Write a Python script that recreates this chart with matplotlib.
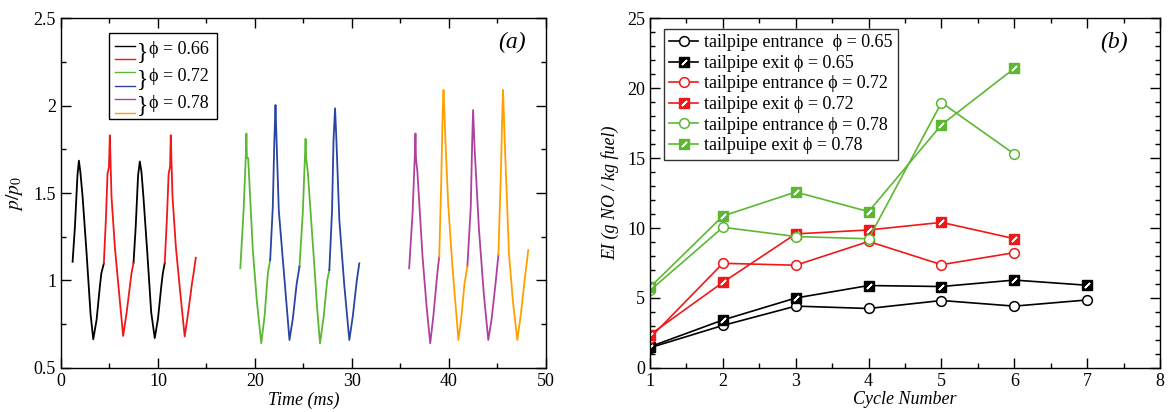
import matplotlib
matplotlib.use("Agg")
import matplotlib.pyplot as plt
import numpy as np
from matplotlib.ticker import MultipleLocator
from matplotlib.patches import Rectangle

plt.rcParams['font.family'] = ['Liberation Serif', 'DejaVu Serif']
plt.rcParams['mathtext.fontset'] = 'stix'

# ---- panel (a): pressure traces, two cycles per colour (nan = break) ----
black_t = [1.2, 1.44, 1.7, 1.85, 2.0, 2.23, 2.64, 3.05, 3.33, 3.67, 4.01, 4.16, 4.42, np.nan,
           7.48, 7.7, 7.95, 8.13, 8.3, 8.5, 8.9, 9.3, 9.67, 10.0, 10.35, 10.5, 10.7]
black_p = [1.107, 1.307, 1.6, 1.685, 1.62, 1.48, 1.157, 0.81, 0.664, 0.774, 0.965, 1.04, 1.098, np.nan,
           1.10, 1.30, 1.60, 1.68, 1.62, 1.48, 1.16, 0.82, 0.671, 0.78, 0.97, 1.04, 1.10]
red_t = [4.42, 4.63, 4.8, 4.95, 5.04, 5.21, 5.56, 6.0, 6.41, 6.76, 7.27, 7.48, np.nan,
         10.7, 10.92, 11.1, 11.25, 11.32, 11.5, 11.85, 12.3, 12.76, 13.1, 13.5, 13.7, 13.9]
red_p = [1.098, 1.346, 1.61, 1.65, 1.83, 1.48, 1.19, 0.926, 0.683, 0.812, 1.04, 1.10, np.nan,
         1.10, 1.35, 1.61, 1.65, 1.83, 1.48, 1.19, 0.93, 0.68, 0.81, 0.98, 1.05, 1.13]
green_t = [18.49, 18.83, 19.05, 19.12, 19.17, 19.3, 19.78, 20.2, 20.65, 21.0, 21.33, 21.57, np.nan,
           24.59, 24.93, 25.15, 25.22, 25.28, 25.45, 26.13, 26.4, 26.71, 27.1, 27.45, 27.67]
green_p = [1.07, 1.40, 1.70, 1.84, 1.70, 1.70, 1.174, 0.88, 0.641, 0.80, 1.041, 1.117, np.nan,
           1.079, 1.384, 1.70, 1.81, 1.70, 1.62, 1.08, 0.85, 0.641, 0.80, 1.0, 1.06]
blue_t = [21.57, 21.84, 22.0, 22.12, 22.2, 22.46, 23.05, 23.56, 23.9, 24.3, 24.59, np.nan,
          27.67, 27.95, 28.1, 28.26, 28.4, 28.7, 29.2, 29.73, 30.1, 30.5, 30.76]
blue_p = [1.117, 1.42, 1.80, 2.003, 1.85, 1.40, 1.003, 0.66, 0.78, 0.98, 1.079, np.nan,
          1.06, 1.40, 1.80, 1.984, 1.80, 1.346, 0.98, 0.66, 0.80, 1.0, 1.098]
magenta_t = [35.9, 36.25, 36.5, 36.55, 36.6, 36.75, 37.28, 37.7, 38.07, 38.4, 38.82, 39.0, np.nan,
             41.9, 42.25, 42.4, 42.49, 42.65, 43.1, 43.6, 44.06, 44.4, 44.8, 45.1]
magenta_p = [1.07, 1.384, 1.74, 1.84, 1.70, 1.62, 1.136, 0.85, 0.641, 0.80, 1.05, 1.136, np.nan,
             1.08, 1.42, 1.80, 1.974, 1.75, 1.289, 0.92, 0.66, 0.78, 0.98, 1.146]
orange_t = [39.0, 39.2, 39.35, 39.44, 39.6, 39.92, 40.36, 40.98, 41.3, 41.6, 41.9, np.nan,
            45.1, 45.35, 45.5, 45.58, 45.75, 46.19, 46.6, 47.05, 47.4, 47.8, 48.18]
orange_p = [1.136, 1.55, 1.95, 2.089, 1.85, 1.44, 1.08, 0.66, 0.80, 0.98, 1.08, np.nan,
            1.146, 1.60, 1.95, 2.089, 1.80, 1.155, 0.88, 0.66, 0.80, 1.0, 1.174]
phi_a = ['0.66', '0.72', '0.78']

# ---- panel (b): emission index per cycle ----
ent065 = [1.45, 3.04, 4.42, 4.25, 4.82, 4.42, 4.86]
exit065 = [1.52, 3.43, 5.0, 5.89, 5.82, 6.28, 5.91]
ent072 = [2.15, 7.48, 7.34, 9.04, 7.38, 8.24]
exit072 = [2.38, 6.12, 9.58, 9.86, 10.4, 9.24]
ent078 = [5.54, 10.05, 9.39, 9.23, 18.96, 15.28]
exit078 = [5.77, 10.86, 12.57, 11.17, 17.37, 21.4]
labels_b = ['tailpipe entrance  ϕ = 0.65', 'tailpipe exit ϕ = 0.65',
            'tailpipe entrance ϕ = 0.72', 'tailpipe exit ϕ = 0.72',
            'tailpipe entrance ϕ = 0.78', 'tailpuipe exit ϕ = 0.78']

BLACK, RED, GREEN, BLUE, MAG, ORANGE = '#000000', '#f01818', '#5cb832', '#2a44a0', '#b040a0', '#ffa000'

fig = plt.figure(figsize=(11.7, 4.12), dpi=100)
ax1 = fig.add_axes([0.0521, 0.1068, 0.4145, 0.8495])
ax2 = fig.add_axes([0.5556, 0.1068, 0.4359, 0.8495])

fs = 13
for ax in (ax1, ax2):
    ax.tick_params(which='both', direction='in', top=True, right=True, labelsize=fs)
    ax.tick_params(which='major', length=7, width=1)
    ax.tick_params(which='minor', length=3.5, width=1)
    for s in ax.spines.values():
        s.set_linewidth(1)

traces = [(black_t, black_p, BLACK), (red_t, red_p, RED), (green_t, green_p, GREEN),
          (blue_t, blue_p, BLUE), (magenta_t, magenta_p, MAG), (orange_t, orange_p, ORANGE)]
for t, p, c in traces:
    ax1.plot(t, p, color=c, lw=1.3)
ax1.set_xlim(0, 50)
ax1.set_ylim(0.5, 2.5)
ax1.xaxis.set_major_locator(MultipleLocator(10))
ax1.xaxis.set_minor_locator(MultipleLocator(5))
ax1.yaxis.set_major_locator(MultipleLocator(0.5))
ax1.yaxis.set_minor_locator(MultipleLocator(0.25))
ax1.yaxis.set_major_formatter(matplotlib.ticker.FormatStrFormatter('%g'))
ax1.set_xlabel('Time (ms)', fontsize=fs, style='italic', labelpad=1)
ax1.set_ylabel('$p/p_0$', fontsize=fs + 1, labelpad=6)
ax1.text(0.93, 0.93, '(a)', transform=ax1.transAxes, fontsize=17, style='italic',
         ha='center', va='center')

# hand-made legend with braces
ax1.add_patch(Rectangle((0.0996, 0.711), 0.2224, 0.245, transform=ax1.transAxes,
                        facecolor='white', edgecolor='black', lw=1, zorder=5))
rows = [0.921, 0.882, 0.845, 0.806, 0.768, 0.729]
cols = [BLACK, RED, GREEN, BLUE, MAG, ORANGE]
for yy, c in zip(rows, cols):
    ax1.plot([0.111, 0.153], [yy, yy], color=c, lw=1, transform=ax1.transAxes, zorder=6)
for i, lab in enumerate(phi_a):
    ym = (rows[2 * i] + rows[2 * i + 1]) / 2
    ax1.text(0.157, ym, '}', transform=ax1.transAxes, fontsize=17, va='center',
             ha='left', zorder=6)
    ax1.text(0.182, ym + 0.008, 'ϕ = ' + lab, transform=ax1.transAxes, fontsize=fs,
             va='center', ha='left', zorder=6)

# panel (b)
cyc7 = np.arange(1, 8)
cyc6 = np.arange(1, 7)
series = [(cyc7, ent065, BLACK, 'o'), (cyc7, exit065, BLACK, 's'),
          (cyc6, ent072, RED, 'o'), (cyc6, exit072, RED, 's'),
          (cyc6, ent078, GREEN, 'o'), (cyc6, exit078, GREEN, 's')]
handles = []
for (x, y, c, m), lab in zip(series, labels_b):
    if m == 'o':
        h, = ax2.plot(x, y, color=c, lw=1.2, marker='o', ms=7, mfc='white', mec=c, mew=1.1)
        handles.append(h)
    else:
        h, = ax2.plot(x, y, color=c, lw=1.2, marker='s', ms=6.5, mfc=c, mec=c, mew=1)
        h2, = ax2.plot(x, y, ls='none', marker=(2, 2, -45), ms=5, mec='white', mew=1.2)
        handles.append((h, h2))
ax2.set_xlim(1, 8)
ax2.set_ylim(0, 25)
ax2.xaxis.set_major_locator(MultipleLocator(1))
ax2.xaxis.set_minor_locator(MultipleLocator(0.5))
ax2.yaxis.set_major_locator(MultipleLocator(5))
ax2.yaxis.set_minor_locator(MultipleLocator(1))
ax2.set_xlabel('Cycle Number', fontsize=fs, style='italic', labelpad=1)
ax2.set_ylabel('EI (g NO / kg fuel)', fontsize=fs, style='italic', labelpad=6)
ax2.text(0.91, 0.93, '(b)', transform=ax2.transAxes, fontsize=17, style='italic',
         ha='center', va='center')
leg = ax2.legend(handles, labels_b, loc='upper left', bbox_to_anchor=(0.0275, 0.969),
                 fontsize=fs, frameon=True, fancybox=False, edgecolor='black',
                 handlelength=1.6, handletextpad=0.3, labelspacing=0.2, borderpad=0.3,
                 borderaxespad=0)
leg.get_frame().set_linewidth(1)

fig.savefig('out.png', dpi=100)
